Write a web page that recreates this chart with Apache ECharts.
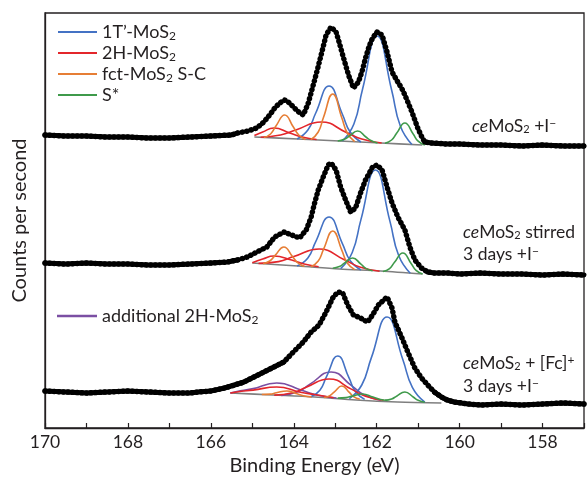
<!DOCTYPE html>
<html>
<head>
<meta charset="utf-8">
<script src="https://cdn.jsdelivr.net/npm/echarts@6/dist/echarts.min.js"></script>
<style>
  html, body { margin: 0; padding: 0; background: #fff; }
  #chart { width: 587px; height: 481px; }
</style>
</head>
<body>
<div id="chart"></div>
<script>
// binding energy axis (reversed), tick labels every 2 eV
const xTickLabels = [170, 168, 166, 164, 162, 160, 158]

// measured spectra: [binding energy (eV), counts (arb., stacked offsets)]
const topDots = [[170,293],[169.5,292],[169,292],[168.5,291],[168,291],[167.5,290],[167,290],[166.5,291],[166,292],[165.5,293],[165.36,295],[165.1,297],[164.89,300],[164.72,306],[164.58,313],[164.46,320],[164.34,325],[164.22,328],[164.1,325],[164.01,321],[163.88,316],[163.77,313],[163.65,325],[163.51,346],[163.42,360],[163.34,373],[163.22,393],[163.1,401],[162.98,396],[162.9,385],[162.82,373],[162.68,353],[162.56,340],[162.44,346],[162.35,357],[162.27,370],[162.18,382],[162.1,390],[161.99,396],[161.87,393],[161.75,376],[161.63,356],[161.49,346],[161.4,340],[161.32,333],[161.15,316],[161.01,300],[160.9,290],[160.84,286],[160.68,285],[160.3,284],[160,284],[159.5,283],[159,283],[158.5,282],[158,283],[157.5,282],[157,282]]
const midDots = [[170,165],[169.5,164],[169,165],[168.5,164],[168,164],[167.5,163],[167,163],[166.5,164],[166,165],[165.6,166],[165.36,168],[165.12,171],[164.89,176],[164.65,181],[164.46,191],[164.24,196],[164.05,193],[163.86,190],[163.7,198],[163.58,211],[163.51,223],[163.41,238],[163.29,251],[163.17,263],[163.1,265],[162.98,258],[162.87,241],[162.75,228],[162.63,216],[162.51,220],[162.39,235],[162.27,248],[162.1,261],[161.99,263],[161.87,258],[161.75,241],[161.63,225],[161.49,211],[161.32,198],[161.2,181],[161.08,168],[160.92,160],[160.77,156],[160.61,155],[160.3,155],[160,154],[159.5,155],[159,154],[158.5,154],[158,153],[157.5,154],[157,153]]
const botDots = [[170,37],[169.5,36],[169,35],[168.5,36],[168,37],[167.5,36],[167,35],[166.5,35],[166.31,36],[166,37],[165.67,40],[165.43,43],[165.2,46],[164.96,51],[164.72,56],[164.48,61],[164.24,66],[164.01,76],[163.77,86],[163.58,96],[163.39,103],[163.22,116],[163.06,130],[162.94,136],[162.82,135],[162.7,123],[162.56,113],[162.39,110],[162.22,106],[162.1,113],[161.96,123],[161.75,131],[161.63,120],[161.56,106],[161.39,90],[161.25,76],[161.08,60],[160.92,50],[160.77,43],[160.61,36],[160.44,31],[160.3,28],[160.13,26],[159.8,24],[159.5,23],[159,24],[158.5,23],[158,24],[157.5,25],[157,24]]

// energy ranges where the dots merge into a solid trace: [left start, right start]
const topFlat = [165.36, 160.84]
const midFlat = [165.36, 160.77]
const botFlat = [164.24, 160.61]

// fit backgrounds
const topBg = [[164.95,291],[163.9,289],[162.9,287],[161.9,285],[160.9,283]]
const midBg = [[165.0,165],[163.9,162],[162.9,159],[161.9,157],[160.9,154]]
const botBg = [[165.53,35],[164.5,33],[163.5,31],[162.5,28],[161.5,26],[160.44,25]]

// fitted components, each a list of doublet curves
const top1T = [
  [[163.92,289],[163.66,298],[163.47,315],[163.15,342],[162.83,314],[162.64,296],[162.38,286]],
  [[162.83,287],[162.55,304],[162.34,339],[161.99,392],[161.64,338],[161.43,302],[161.15,283.5]]
]
const top2H = [
  [[164.95,292.5],[164.75,296],[164.48,300],[164.1,295],[163.8,291],[163.45,288.5]],
  [[164.8,290.7],[164.32,293],[163.95,298],[163.34,306],[162.73,295.6],[162.36,289],[161.88,285]]
]
const topFct = [
  [[164.72,290.5],[164.56,294],[164.43,302],[164.22,313],[164.01,301],[163.88,293],[163.72,288.6]],
  [[163.59,288.4],[163.41,296],[163.28,311],[163.06,334],[162.84,310],[162.71,295],[162.53,286.3]]
]
const topS = [
  [[162.94,287],[162.78,288.7],[162.66,292],[162.46,297],[162.26,291],[162.14,287.5],[161.98,285]],
  [[161.8,284.8],[161.64,288],[161.52,294.7],[161.32,305],[161.12,294],[161.0,286.8],[160.84,282.9]]
]

const mid1T = [
  [[163.92,162.1],[163.66,170],[163.47,186.4],[163.15,211],[162.83,184.7],[162.64,167.4],[162.38,158]],
  [[162.87,159.3],[162.59,175.5],[162.38,208.4],[162.03,258],[161.68,206.6],[161.47,172.5],[161.19,154.8]]
]
const mid2H = [
  [[165.0,165.2],[164.75,169],[164.48,172],[164.05,168],[163.75,164],[163.4,161.2]],
  [[164.85,164.6],[164.37,166.4],[164.0,171.5],[163.39,179],[162.78,168.2],[162.41,161.1],[161.93,156.8]]
]
const midFct = [
  [[164.74,164.3],[164.58,167],[164.45,172.6],[164.24,181],[164.03,171.4],[163.9,165],[163.74,161.7]],
  [[163.59,161.2],[163.41,167],[163.28,178.9],[163.06,197],[162.84,177.7],[162.71,165],[162.53,158.4]]
]
const midS = [
  [[163.06,159.8],[162.9,161.4],[162.78,164.8],[162.58,170],[162.38,163.8],[162.26,159.6],[162.1,157.2]],
  [[161.85,156.5],[161.69,159.4],[161.57,165.7],[161.37,175],[161.17,164.6],[161.05,157.7],[160.89,154]]
]

const bot1T = [
  [[163.59,31.2],[163.37,37.8],[163.21,51.4],[162.94,72],[162.67,50.4],[162.51,36.2],[162.29,28.6]],
  [[162.66,29.4],[162.36,43],[162.13,70.1],[161.75,111],[161.37,68.5],[161.14,40.6],[160.84,25.8]]
]
const bot2H = [
  [[165.53,35],[165.3,36.5],[164.98,37.9],[164.41,41],[163.84,35.8],[163.5,33.5],[163.04,30.3]],
  [[164.47,32.9],[164.03,35.2],[163.7,40.8],[163.15,49],[162.6,38.6],[162.27,31.8],[161.83,27.7]]
]
const botFct = [
  [[164.77,33.5],[164.57,33.9],[164.42,35.2],[164.17,37],[163.92,34.2],[163.77,32.3],[163.57,31.1]],
  [[163.27,30.5],[163.13,32.4],[163.02,36.2],[162.84,42],[162.66,35.6],[162.55,31.2],[162.41,28.9]]
]
const botS = [
  [[162.94,29.9],[162.74,30.4],[162.59,31.9],[162.34,34],[162.09,30.9],[161.94,28.8],[161.74,27.5]],
  [[161.8,27.7],[161.64,29],[161.52,31.8],[161.32,36],[161.12,31],[161.0,27.7],[160.84,25.8]]
]
const botAdd2H = [
  [[165.53,35],[165.37,36.5],[165.01,39.1],[164.41,45],[163.81,37.7],[163.45,33],[162.97,30]],
  [[164.3,32.6],[163.9,36.2],[163.6,44.1],[163.1,56],[162.6,42.1],[162.3,33],[161.9,27.9]]
]

const names = ['1T’-MoS2', '2H-MoS2', 'fct-MoS2 S-C', 'S*', 'additional 2H-MoS2']
const colors = ['#4472c4', '#e3262b', '#e67e35', '#3f9a4b', '#7b4fa3']

const chart = echarts.init(document.getElementById('chart'))

function fitLines(name, color, curves) {
  return curves.map(pts => ({
    name: name,
    type: 'line',
    data: pts,
    smooth: 0.5,
    symbol: 'none',
    lineStyle: { color: color, width: 1.6 },
    itemStyle: { color: color },
    z: 3
  }))
}
function bgLine(pts) {
  return {
    type: 'line', data: pts, smooth: 0.3, symbol: 'none',
    lineStyle: { color: '#7f7f7f', width: 1.6 }, z: 2
  }
}
// dotted trace for the whole spectrum, solid thick trace where points crowd together
function dots(pts, flat) {
  const solid = part => ({
    type: 'line', data: part, symbol: 'none',
    lineStyle: { color: '#000', width: 5, cap: 'round', join: 'round' }, z: 5
  })
  return [
    {
      type: 'line', data: pts, symbol: 'none',
      lineStyle: { color: '#000', width: 5.5, type: [0.1, 4.5], cap: 'round', join: 'round' },
      z: 5
    },
    solid(pts.filter(p => p[0] >= flat[0])),
    solid(pts.filter(p => p[0] <= flat[1]))
  ]
}

const series = [].concat(
  bgLine(topBg), bgLine(midBg), bgLine(botBg),
  fitLines(names[0], colors[0], top1T), fitLines(names[1], colors[1], top2H),
  fitLines(names[2], colors[2], topFct), fitLines(names[3], colors[3], topS),
  fitLines(names[0], colors[0], mid1T), fitLines(names[1], colors[1], mid2H),
  fitLines(names[2], colors[2], midFct), fitLines(names[3], colors[3], midS),
  fitLines(names[4], colors[4], botAdd2H),
  fitLines(names[0], colors[0], bot1T), fitLines(names[1], colors[1], bot2H),
  fitLines(names[2], colors[2], botFct), fitLines(names[3], colors[3], botS),
  dots(topDots, topFlat), dots(midDots, midFlat), dots(botDots, botFlat)
)

const font = 'Lato'
const ink = '#231f20'
const legendText = {
  fontFamily: font, fontSize: 18, color: ink, lineHeight: 20,
  rich: { sub: { fontFamily: font, fontSize: 12, color: ink, verticalAlign: 'bottom', lineHeight: 14 } }
}
const legendFmt = n => n.replace('MoS2', 'MoS{sub|2}')

const annRich = {
  i: { fontFamily: font, fontSize: 17.5, fontStyle: 'italic', fill: ink },
  t: { fontFamily: font, fontSize: 17.5, fill: ink },
  sub: { fontFamily: font, fontSize: 11, fill: ink, verticalAlign: 'bottom', lineHeight: 12 },
  sup: { fontFamily: font, fontSize: 12, fill: ink, verticalAlign: 'top', lineHeight: 12 }
}

chart.setOption({
  animation: false,
  backgroundColor: '#fff',
  grid: { left: 45, top: 13, width: 546, height: 415, show: true, borderColor: ink, borderWidth: 1.3 },
  legend: [
    {
      data: names.slice(0, 4), orient: 'vertical', left: 53, top: 17,
      icon: 'rect', itemWidth: 39, itemHeight: 2, itemGap: 1,
      textStyle: legendText, formatter: legendFmt
    },
    {
      data: [names[4]], orient: 'vertical', left: 52, top: 301,
      icon: 'rect', itemWidth: 40, itemHeight: 2.5,
      textStyle: legendText, formatter: legendFmt
    }
  ],
  xAxis: {
    type: 'value', inverse: true, min: 157, max: 170, interval: 1,
    name: 'Binding Energy (eV)', nameLocation: 'middle', nameGap: 28,
    nameTextStyle: { fontFamily: font, fontSize: 20, color: ink },
    axisLine: { lineStyle: { color: ink, width: 1.3 } },
    axisTick: { inside: true, length: 5, lineStyle: { color: ink, width: 1.2 } },
    axisLabel: {
      margin: 5, fontFamily: font, fontSize: 17.5, color: ink,
      formatter: v => (xTickLabels.indexOf(v) >= 0 ? String(v) : '')
    },
    splitLine: { show: false }
  },
  yAxis: {
    type: 'value', min: 0, max: 415,
    name: 'Counts per second', nameLocation: 'middle', nameGap: 15,
    nameTextStyle: { fontFamily: font, fontSize: 20, color: ink },
    axisLine: { show: true, lineStyle: { color: ink, width: 1.3 } },
    axisTick: { show: false }, axisLabel: { show: false }, splitLine: { show: false }
  },
  graphic: [
    { type: 'text', left: 472, top: 117, style: { text: '{i|ce}{t|MoS}{sub|2}{t| +I}{sup|−}', rich: annRich } },
    { type: 'text', left: 463, top: 223, style: { text: '{i|ce}{t|MoS}{sub|2}{t| stirred}', rich: annRich } },
    { type: 'text', left: 463, top: 245, style: { text: '{t|3 days +I}{sup|−}', rich: annRich } },
    { type: 'text', left: 463, top: 354, style: { text: '{i|ce}{t|MoS}{sub|2}{t| + [Fc]}{sup|+}', rich: annRich } },
    { type: 'text', left: 463, top: 377, style: { text: '{t|3 days +I}{sup|−}', rich: annRich } }
  ],
  series: series
})
</script>
</body>
</html>
